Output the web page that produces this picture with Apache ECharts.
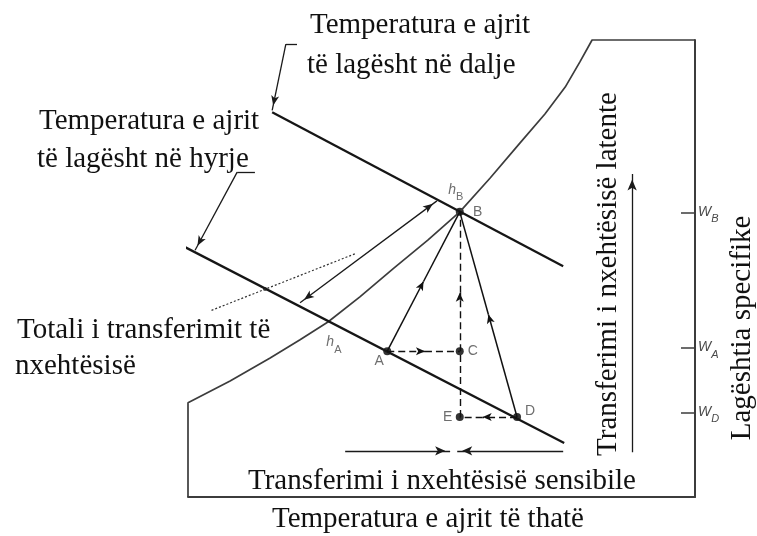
<!DOCTYPE html>
<html>
<head>
<meta charset="utf-8">
<script src="https://cdn.jsdelivr.net/npm/echarts@6/dist/echarts.min.js"></script>
<style>
html,body{margin:0;padding:0;background:#fff;}
#chart{width:757px;height:536px;}
</style>
</head>
<body>
<div id="chart"></div>
<script>
// ---------------- DATA (index units: dry-bulb temperature 0..100, specific humidity 0..100) ----------------
// Saturation curve
const satT = [0, 8.3, 16.2, 22.1, 27.6, 33.9, 40.6, 47.3, 53.6, 59.6, 65.5, 70.4, 74.4, 77.3, 79.7];
const satW = [20.6, 25.4, 30.4, 34.4, 38.3, 43.8, 50.1, 56.2, 62.4, 69.8, 77.5, 83.8, 89.7, 95.2, 100];
// Chart frame corners (bottom-left and top-right)
const frameStart = [0, 0];
const frameEnd = [100, 100];

// State points
const pointNames = ['A', 'B', 'C', 'D', 'E'];
const pointT = [39.3, 53.6, 53.6, 64.9, 53.6];
const pointW = [31.9, 62.4, 31.9, 17.5, 17.5];

// Wet-bulb / enthalpy lines (outlet hB, inlet hA)
const hLineBT = [16.6, 74.0];
const hLineBW = [84.2, 50.5];
const hLineAT = [-4.1, 74.2];
const hLineAW = [56.7, 11.8];
const hAPointT = 27.6;
const hAPointW = 38.3;

// Specific humidity ticks on right axis
const wTickNames = ['B', 'A', 'D'];
const wTickValues = [62.2, 32.6, 18.4];

// Process paths
const processFrom = ['A', 'D', 'C', 'E', 'A', 'D'];
const processTo   = ['B', 'B', 'B', 'C', 'C', 'E'];
const processArrowAt = [0.5, 0.5, 0.42, null, 0.52, 0.6];
const processDashed = [false, false, true, true, true, true];

// Total heat transfer double arrow
const totalT = [22.1, 49.1];
const totalW = [42.5, 64.8];
// Sensible heat transfer arrows (converging)
const sensLeftT = [31.0, 51.7];
const sensRightT = [74.0, 53.1];
const sensW = 10.1;
// Latent heat transfer arrow
const latentT = 87.6;
const latentW = [9.8, 70.7];

// Leader lines
const outletLeaderT = [21.5, 19.3, 16.6];
const outletLeaderW = [99.1, 99.1, 84.6];
const inletLeaderT = [13.2, 9.7, 1.4];
const inletLeaderW = [71.1, 71.1, 54.0];
const totalLeaderT = [32.9, 4.3];
const totalLeaderW = [53.2, 40.7];
const totalLeaderDot = [15.2, 45.5];

// Texts
const textOutlet = ['Temperatura e ajrit', 'të lagësht në dalje'];
const textInlet = ['Temperatura e ajrit', 'të lagësht në hyrje'];
const textTotal = ['Totali i transferimit të', 'nxehtësisë'];
const textSensible = 'Transferimi i nxehtësisë sensibile';
const textXName = 'Temperatura e ajrit të thatë';
const textLatent = 'Transferimi i nxehtësisë latente';
const textYName = 'Lagështia specifike';

// ---------------- BUILD ----------------
const serif = '"Liberation Serif", "Times New Roman", serif';
const sans = '"Liberation Sans", Arial, sans-serif';
const FONT = '29px ' + serif;
const INK = '#111';
const FRAME = '#3c3c3c';
const LABEL = '#4a4a4a';

function pt(name) { const i = pointNames.indexOf(name); return [pointT[i], pointW[i]]; }
function lerp(p, q, t) { return [p[0] + (q[0] - p[0]) * t, p[1] + (q[1] - p[1]) * t]; }

function seg(p, q, style, endArrow, startArrow, size) {
  const s = size || [6, 9];
  return [
    { coord: p, symbol: startArrow ? 'arrow' : 'none', symbolSize: s,
      symbolOffset: [0, startArrow === 'tip' ? s[1] / 2 : 0], lineStyle: style },
    { coord: q, symbol: endArrow ? 'arrow' : 'none', symbolSize: s,
      symbolOffset: [0, endArrow === 'tip' ? s[1] / 2 : 0] }
  ];
}

const solidStyle = { type: 'solid', width: 1.5, color: INK };
const dashStyle = { type: [7, 4], width: 1.4, color: INK };
const thinStyle = { type: 'solid', width: 1.3, color: '#1a1a1a' };
const dotStyle = { type: [2, 2], width: 1.2, color: '#333' };

const markLines = [];
for (let i = 0; i < processFrom.length; i++) {
  const P = pt(processFrom[i]), Q = pt(processTo[i]);
  const st = processDashed[i] ? dashStyle : solidStyle;
  if (processArrowAt[i] != null) {
    const M = lerp(P, Q, processArrowAt[i]);
    markLines.push(seg(P, M, st, true, false, [6, 9]));
    markLines.push(seg(M, Q, st, false, false));
  } else {
    markLines.push(seg(P, Q, st, false, false));
  }
}
markLines.push(seg([totalT[0], totalW[0]], [totalT[1], totalW[1]], thinStyle, 'tip', 'tip', [6, 10]));
markLines.push(seg([sensLeftT[0], sensW], [sensLeftT[1], sensW], thinStyle, 'tip', false, [7, 10]));
markLines.push(seg([sensRightT[0], sensW], [sensRightT[1], sensW], thinStyle, 'tip', false, [7, 10]));
markLines.push(seg([latentT, latentW[0]], [latentT, latentW[1]], thinStyle, 'tip', false, [7, 11]));
markLines.push(seg([outletLeaderT[0], outletLeaderW[0]], [outletLeaderT[1], outletLeaderW[1]], thinStyle));
markLines.push(seg([outletLeaderT[1], outletLeaderW[1]], [outletLeaderT[2], outletLeaderW[2]], thinStyle, 'tip', false, [6, 10]));
markLines.push(seg([inletLeaderT[0], inletLeaderW[0]], [inletLeaderT[1], inletLeaderW[1]], thinStyle));
markLines.push(seg([inletLeaderT[1], inletLeaderW[1]], [inletLeaderT[2], inletLeaderW[2]], thinStyle, 'tip', false, [6, 10]));
markLines.push(seg([totalLeaderT[0], totalLeaderW[0]], [totalLeaderT[1], totalLeaderW[1]], dotStyle));

const frameData = [frameStart, [frameStart[0], satW[0]]];
for (let i = 0; i < satT.length; i++) frameData.push([satT[i], satW[i]]);
frameData.push(frameEnd);

const labelOffsets = { A: [-8, 10], B: [18, 0], C: [13, 0], D: [13, -6], E: [-12, 0] };
const pointData = pointNames.map((n, i) => ({
  name: n, value: [pointT[i], pointW[i]],
  label: { offset: labelOffsets[n] }
}));

const subRich = {
  h: { fontFamily: sans, fontStyle: 'italic', fontSize: 14, color: LABEL, verticalAlign: 'top', lineHeight: 20 },
  s: { fontFamily: sans, fontSize: 11, color: LABEL, verticalAlign: 'bottom', lineHeight: 20 }
};
const wRich = {
  h: { fontFamily: sans, fontStyle: 'italic', fontSize: 14, color: LABEL, verticalAlign: 'top', lineHeight: 20 },
  s: { fontFamily: sans, fontStyle: 'italic', fontSize: 11, color: LABEL, verticalAlign: 'bottom', lineHeight: 20 }
};

function txt(text, x, y, extra) {
  return Object.assign({
    type: 'text', x: x, y: y, silent: true,
    style: { text: text, font: FONT, fill: INK, textAlign: 'left', textVerticalAlign: 'middle' }
  }, extra || {});
}

const graphics = [
  txt(textOutlet[0], 310, 25),
  txt(textOutlet[1], 307, 65),
  txt(textInlet[0], 39, 121),
  txt(textInlet[1], 37, 159),
  txt(textTotal[0], 17, 330),
  txt(textTotal[1], 15, 366),
  txt(textSensible, 248, 481),
  txt(textXName, 272, 519),
  { type: 'text', x: 608, y: 274, rotation: Math.PI / 2, silent: true,
    style: { text: textLatent, font: FONT, fill: INK, textAlign: 'center', textVerticalAlign: 'middle' } },
  { type: 'text', x: 742, y: 328, rotation: Math.PI / 2, silent: true,
    style: { text: textYName, font: FONT, fill: INK, textAlign: 'center', textVerticalAlign: 'middle' } }
];

const option = {
  animation: false,
  backgroundColor: '#ffffff',
  grid: { left: 188, right: 62, top: 40, bottom: 39, containLabel: false, outerBoundsMode: 'none' },
  xAxis: {
    type: 'value', min: 0, max: 100,
    axisLine: { show: true, onZero: false, lineStyle: { color: FRAME, width: 2 } },
    axisTick: { show: false }, axisLabel: { show: false }, splitLine: { show: false }
  },
  yAxis: {
    type: 'value', position: 'right', min: 0, max: 100,
    axisLine: { show: true, onZero: false, lineStyle: { color: FRAME, width: 2 } },
    axisTick: { show: true, inside: true, length: 14, customValues: wTickValues,
      lineStyle: { color: FRAME, width: 1.5 } },
    axisLabel: {
      show: true, inside: false, margin: 3, customValues: wTickValues,
      padding: [4, 0, 0, 0],
      formatter: function (v) {
        const i = wTickValues.findIndex(x => Math.abs(x - v) < 0.01);
        return i < 0 ? '' : '{h|W}{s|' + wTickNames[i] + '}';
      },
      rich: wRich
    },
    splitLine: { show: false }
  },
  graphic: graphics,
  series: [
    {
      name: 'frame', type: 'line', data: frameData, showSymbol: false, symbol: 'none',
      clip: false, silent: true,
      lineStyle: { color: FRAME, width: 1.7 },
      markLine: {
        silent: true, symbol: 'none', label: { show: false },
        lineStyle: thinStyle, emphasis: { disabled: true },
        data: markLines
      }
    },
    {
      name: 'hB', type: 'line', data: hLineBT.map((t, i) => [t, hLineBW[i]]),
      showSymbol: false, symbol: 'none', clip: false, silent: true,
      lineStyle: { color: '#161616', width: 2.3 }
    },
    {
      name: 'hA', type: 'line', data: hLineAT.map((t, i) => [t, hLineAW[i]]),
      showSymbol: false, symbol: 'none', clip: false, silent: true,
      lineStyle: { color: '#161616', width: 2.3 }
    },
    {
      name: 'leaderDot', type: 'scatter', data: [totalLeaderDot], symbolSize: 4,
      itemStyle: { color: '#222' }, silent: true, clip: false
    },
    {
      name: 'points', type: 'scatter', data: pointData, symbolSize: 8, clip: false, silent: true,
      itemStyle: { color: '#000' },
      label: { show: true, position: 'inside', formatter: '{b}',
        fontFamily: sans, fontSize: 14, color: LABEL }
    },
    {
      name: 'enthalpyLabels', type: 'scatter', symbolSize: 0, clip: false, silent: true,
      data: [
        { name: 'A', value: [hAPointT, hAPointW], label: { offset: [6, 23] } },
        { name: 'B', value: pt('B'), label: { offset: [-4, -19] } }
      ],
      label: { show: true, position: 'inside', formatter: p => '{h|h}{s|' + p.name + '}', rich: subRich }
    }
  ]
};

const chart = echarts.init(document.getElementById('chart'), null, { renderer: 'canvas' });
chart.setOption(option);
</script>
</body>
</html>
